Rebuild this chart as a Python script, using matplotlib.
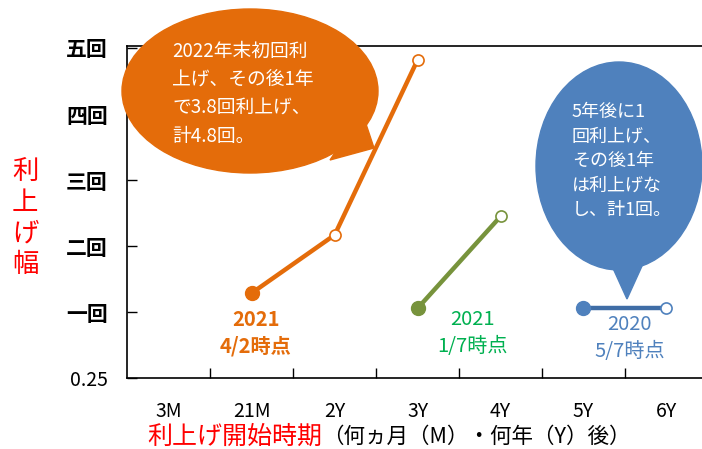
import matplotlib
matplotlib.use("Agg")
import matplotlib.pyplot as plt
from matplotlib.patches import Ellipse, Polygon

plt.rcParams['font.family'] = ['Noto Sans CJK JP', 'DejaVu Sans']

W, H = 702, 449

# data
categories = ["3M", "21M", "2Y", "3Y", "4Y", "5Y", "6Y"]
y_labels = ["0.25", "一回", "二回", "三回", "四回", "五回"]
orange_x = [1, 2, 3]
orange_y = [1.29, 2.17, 4.82]
green_x = [3, 4]
green_y = [1.06, 2.45]
blue_x = [5, 6]
blue_y = [1.06, 1.06]

ORANGE = "#E46C0A"
GREEN_LINE = "#77933C"
GREEN_TXT = "#00B050"
BLUE = "#4F81BD"
BLUE_LINE = "#3F6DA6"


def fp(x, y):
    # pixel position -> figure fraction
    return (x / W, 1 - y / H)


fig = plt.figure(figsize=(W / 100, H / 100), dpi=100)
ax = fig.add_axes([127.3 / W, 1 - 378.3 / H, 580.6 / W, 332.3 / H])
ax.set_xlim(-0.5, 6.5)
ax.set_ylim(0, 5.03)

for s in ax.spines.values():
    s.set_color("black")
    s.set_linewidth(1.2)

ax.set_xticks(range(len(categories)))
ax.set_xticklabels(categories, fontsize=14)
ax.set_xticks([i + 0.5 for i in range(len(categories) - 1)], minor=True)
ax.tick_params(axis="x", which="major", length=0, pad=16)
ax.tick_params(axis="x", which="minor", direction="in", length=7, width=1)

ax.set_yticks(range(len(y_labels)))
ax.set_yticklabels(y_labels, fontsize=15)
ax.get_yticklabels()[0].set_fontsize(14)
for lab in ax.get_yticklabels()[1:]:
    lab.set_fontweight("bold")
ax.tick_params(axis="y", direction="in", length=7, width=1, pad=14)

# lines
def series(xs, ys, lc, mc):
    ax.plot(xs, ys, color=lc, lw=3.2, solid_capstyle="butt", zorder=3)
    ax.plot(xs[0], ys[0], "o", color=mc, ms=10, zorder=4)
    ax.plot(xs[1:], ys[1:], "o", mfc="white", mec=mc, mew=1.2, ms=8, ls="none", zorder=4)

series(orange_x, orange_y, ORANGE, ORANGE)
series(green_x, green_y, GREEN_LINE, GREEN_LINE)
series(blue_x, blue_y, BLUE_LINE, BLUE)

# point labels
ax.text(1.05, 0.69, "2021\n4/2時点", color=ORANGE, fontsize=14.5, fontweight="bold",
        ha="center", va="center", linespacing=1.35)
ax.text(3.66, 0.69, "2021\n1/7時点", color=GREEN_TXT, fontsize=14.5,
        ha="center", va="center", linespacing=1.35)
ax.text(5.56, 0.61, "2020\n5/7時点", color=BLUE, fontsize=14.5,
        ha="center", va="center", linespacing=1.35)

# speech bubbles
tr = fig.transFigure
c = fp(250, 91)
fig.patches.append(Ellipse(c, 256 / W, 164 / H, transform=tr, color=ORANGE, zorder=5))
fig.patches.append(Polygon([fp(362, 112), fp(374, 148), fp(330, 160)], closed=True,
                           transform=tr, color=ORANGE, zorder=5))
fig.text(*fp(172, 94), "2022年末初回利\n上げ、その後1年\nで3.8回利上げ、\n計4.8回。",
         color="white", fontsize=13.5, ha="left", va="center", linespacing=1.45, zorder=6)

c = fp(619, 166)
fig.patches.append(Ellipse(c, 166 / W, 208 / H, transform=tr, color=BLUE, zorder=5))
fig.patches.append(Polygon([fp(612, 266), fp(642, 266), fp(627, 299)], closed=True,
                           transform=tr, color=BLUE, zorder=5))
fig.text(*fp(572, 161), "5年後に1\n回利上げ、\nその後1年\nは利上げな\nし、計1回。",
         color="white", fontsize=13, ha="left", va="center", linespacing=1.45, zorder=6)

# axis titles
fig.text(*fp(25, 218), "利\n上\nげ\n幅", color="red", fontsize=19, ha="center",
         va="center", linespacing=1.2)
red = fig.text(*fp(147, 437), "利上げ開始時期", color="red", fontsize=18,
               ha="left", va="center")
fig.canvas.draw()
bb = red.get_window_extent()
fig.text(bb.x1 / W, 1 - 437 / H, "（何ヵ月（M）・何年（Y）後）", color="black",
         fontsize=15.5, ha="left", va="center")

fig.savefig("out.png", dpi=100)
